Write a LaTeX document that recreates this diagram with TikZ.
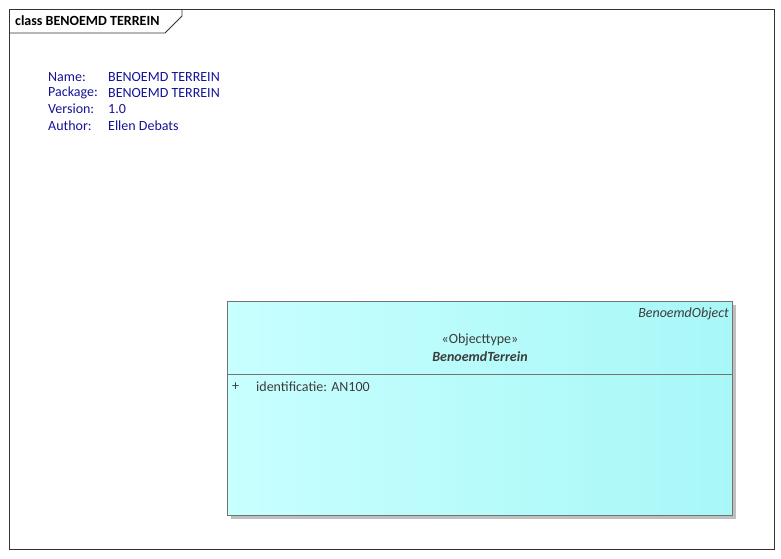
\documentclass[tikz,border=0pt]{standalone}
\usepackage{fontspec}
\setmainfont{Carlito}
\usepackage{tikz}
\usetikzlibrary{positioning,shadows}

\definecolor{infoblue}{RGB}{20,20,150}
\definecolor{boxtext}{RGB}{60,60,60}
\definecolor{cyanleft}{RGB}{200,255,255}
\definecolor{cyanright}{RGB}{168,247,247}

\tikzset{
  frameline/.style={draw=black!80, line width=0.8pt},
  info/.style={anchor=west, inner sep=0pt, text=infoblue, font=\fontsize{14}{16}\selectfont},
  boxtxt/.style={inner sep=0pt, text=boxtext, font=\fontsize{14}{16}\selectfont},
}

\begin{document}
\begin{tikzpicture}[x=1pt, y=-1pt]
  \useasboundingbox (0,0) rectangle (781,558);
  % frame and tab
  \draw[frameline] (9,9) rectangle (774,549);
  \draw[frameline] (9,33) -- (165,33) -- (182,16) -- (182,9);
  \node[anchor=west, inner sep=0pt, font=\fontsize{14}{16}\selectfont\bfseries] (title) at (15,21) {class BENOEMD TERREIN};

  % package info
  \node[info] (name) at (48,77) {Name:};
  \node[info] (pack) at (48,93) {Package:};
  \node[info] (vers) at (48,109) {Version:};
  \node[info] (auth) at (48,126) {Author:};
  \node[info] (namev) at (108,77) {BENOEMD TERREIN};
  \node[info] (packv) at (108,93) {BENOEMD TERREIN};
  \node[info] (versv) at (108,109) {1.0};
  \node[info] (authv) at (108,126) {Ellen Debats};

  % class box
  \fill[black!25] (231,305) rectangle (736,519);
  \shade[left color=cyanleft, right color=cyanright] (227,301) rectangle (732,515);
  \draw[draw=black!55, line width=0.8pt] (227,301) rectangle (732,515);
  \draw[draw=black!55, line width=0.8pt] (227,374) -- (732,374);
  \node[boxtxt, anchor=east, font=\fontsize{14}{16}\selectfont\itshape] (parent) at (729,314) {BenoemdObject};
  \node[boxtxt] (stereo) at (480,340) {«Objecttype»};
  \node[boxtxt, font=\fontsize{14}{16}\selectfont\bfseries\itshape] (cls) at (480,357) {BenoemdTerrein};
  \node[boxtxt, anchor=west] (plus) at (232,387) {+};
  \node[boxtxt, anchor=west] (attr) at (256,387) {identificatie: AN100};
\end{tikzpicture}
\end{document}
